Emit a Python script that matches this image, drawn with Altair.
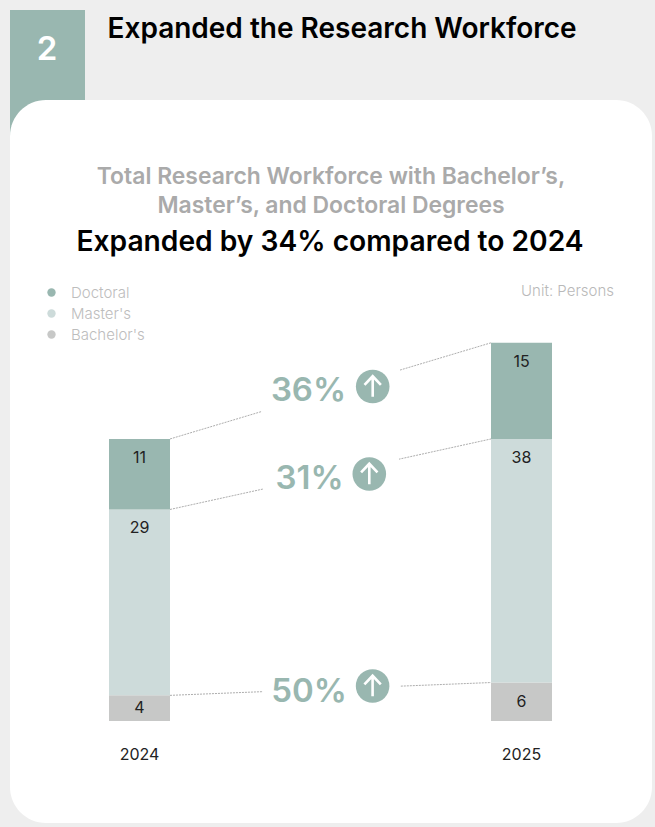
import altair as alt
import pandas as pd

# Workforce counts by degree, stacked bottom to top
YEARS = [2024, 2025]
DEGREES = ["Bachelor's", "Master's", "Doctoral"]
BACHELOR = [4, 6]
MASTER = [29, 38]
DOCTORAL = [11, 15]
GROWTH = ["50%", "31%", "36%"]

COLORS = {"Doctoral": "#99b7b0", "Master's": "#cddbda", "Bachelor's": "#c7c8c7"}
TEAL = "#99b7b0"
FONT = "Inter"
W, H = 655, 827

# Shared scales: value 0 sits on the baseline of the bars
BASE_PX, PX_PER_UNIT = 721, 6.41
y_scale = alt.Scale(domain=[(BASE_PX - H) / PX_PER_UNIT, BASE_PX / PX_PER_UNIT], nice=False, zero=False)
x_scale = alt.Scale(domain=YEARS, range=[139.5, 521.5], nice=False, zero=False, padding=0)
BAR_W = 61
half_bar = (BAR_W / 2) / 382

rows = []
for i, year in enumerate(YEARS):
    floor = 0
    for deg, series in zip(DEGREES, [BACHELOR, MASTER, DOCTORAL]):
        rows.append({"year": year, "degree": deg, "value": series[i], "low": floor, "top": floor + series[i]})
        floor += series[i]
bars_df = pd.DataFrame(rows)

links = []
for deg in DEGREES:
    part = bars_df[bars_df.degree == deg].sort_values("year")
    links.append({"x": YEARS[0] + half_bar, "x2": YEARS[1] - half_bar,
                  "y": int(part.top.iloc[0]), "y2": int(part.top.iloc[1])})
links_df = pd.DataFrame(links)


def text(s, x, y, size, color, weight=400, align="center"):
    return alt.Chart(pd.DataFrame({"t": [s]})).mark_text(
        font=FONT, fontSize=size, color=color, fontWeight=weight, align=align, baseline="alphabetic"
    ).encode(x=alt.value(x), y=alt.value(y), text="t:N")


def box(x, x2, y, y2, color, radius=0):
    return alt.Chart(pd.DataFrame({"k": [0]})).mark_rect(color=color, cornerRadius=radius).encode(
        x=alt.value(x), x2=alt.value(x2), y=alt.value(y), y2=alt.value(y2)
    )


def dot(x, y, size, color):
    return alt.Chart(pd.DataFrame({"k": [0]})).mark_point(
        shape="circle", filled=True, size=size, color=color, opacity=1
    ).encode(x=alt.value(x), y=alt.value(y))


def arrow(x, y):
    return alt.Chart(pd.DataFrame({"k": [0]})).mark_point(
        shape="M0,-1 L0,1 M-0.8,-0.15 L0,-1 L0.8,-0.15",
        filled=False, size=420, color="white", strokeWidth=2.6, opacity=1,
    ).encode(x=alt.value(x), y=alt.value(y))


# Page furniture behind the chart
tab = box(10, 85, 10, 140, TEAL)
card = box(10, 652, 100, 823, "white", 36)
number = text("2", 47, 60, 33, "white", 600)
heading = text("Expanded the Research Workforce", 107.5, 38, 28, "#000000", 600, "left")
sub1 = text("Total Research Workforce with Bachelor’s,", 331, 184, 22.9, "#aaaaaa", 600)
sub2 = text("Master’s, and Doctoral Degrees", 331, 213, 22.9, "#aaaaaa", 600)
lead = text("Expanded by 34% compared to 2024", 330, 250.5, 28.2, "#000000", 600)
unit = text("Unit: Persons", 614, 296, 15, "#b9b9b9", 300, "right")

# Stacked bars with the degree legend
bars = alt.Chart(bars_df).mark_bar(size=BAR_W, orient="vertical").encode(
    x=alt.X("year:Q", scale=x_scale, axis=None),
    y=alt.Y("low:Q", scale=y_scale, axis=None),
    y2="top:Q",
    color=alt.Color("degree:N", title=None,
                    scale=alt.Scale(domain=list(COLORS), range=list(COLORS.values())),
                    legend=alt.Legend(orient="none", legendX=44, legendY=285, symbolType="circle",
                                      symbolSize=70, labelFont=FONT, labelFontSize=15, labelFontWeight=300,
                                      labelColor="#bdbdbd", labelOffset=12, rowPadding=5, zindex=1,
                                      symbolStrokeWidth=0)),
)

# Dashed connectors between matching segment tops
connectors = alt.Chart(links_df).mark_rule(color="#8a8a8a", strokeWidth=0.7, strokeDash=[2, 1]).encode(
    x=alt.X("x:Q", scale=x_scale, axis=None), x2="x2:Q",
    y=alt.Y("y:Q", scale=y_scale, axis=None), y2="y2:Q",
)
# Clear the connectors around each growth badge
mask_a = box(262, 400, 365, 415, "white")
mask_b = box(263, 399, 455, 500, "white")
mask_c = box(263, 400, 665, 710, "white")

upper = bars_df[bars_df.degree != "Bachelor's"]
lower = bars_df[bars_df.degree == "Bachelor's"].assign(mid=lambda d: (d.low + d.top) / 2)
labels_upper = alt.Chart(upper).mark_text(font=FONT, fontSize=16, color="#222222", dy=19).encode(
    x=alt.X("year:Q", scale=x_scale, axis=None), y=alt.Y("top:Q", scale=y_scale, axis=None), text="value:Q"
)
labels_lower = alt.Chart(lower).mark_text(font=FONT, fontSize=16, color="#222222", dy=0).encode(
    x=alt.X("year:Q", scale=x_scale, axis=None), y=alt.Y("mid:Q", scale=y_scale, axis=None), text="value:Q"
)
year_labels = alt.Chart(pd.DataFrame({"year": YEARS})).mark_text(
    font=FONT, fontSize=16, color="#222222", baseline="alphabetic"
).encode(
    x=alt.X("year:Q", scale=x_scale, axis=None), y=alt.value(760), text=alt.Text("year:Q", format="d")
)

badges = [
    text(GROWTH[2], 308.5, 401, 33, TEAL, 600), dot(372.7, 386.5, 1130, TEAL), arrow(372.7, 386.5),
    text(GROWTH[1], 309.5, 489, 33, TEAL, 600), dot(369.3, 474, 1130, TEAL), arrow(369.3, 474),
    text(GROWTH[0], 309, 702, 33, TEAL, 600), dot(372.6, 686, 1130, TEAL), arrow(372.6, 686),
]

chart = alt.layer(
    tab, card, number, heading, sub1, sub2, lead, unit,
    connectors, mask_a, mask_b, mask_c, bars, labels_upper, labels_lower, year_labels, *badges,
).properties(
    width=W, height=H, padding=0, background="#eeeeee",
    autosize=alt.AutoSizeParams(type="none"),
).configure_view(stroke=None)

chart.save("out.html", embed_options={"renderer": "svg", "actions": False})
